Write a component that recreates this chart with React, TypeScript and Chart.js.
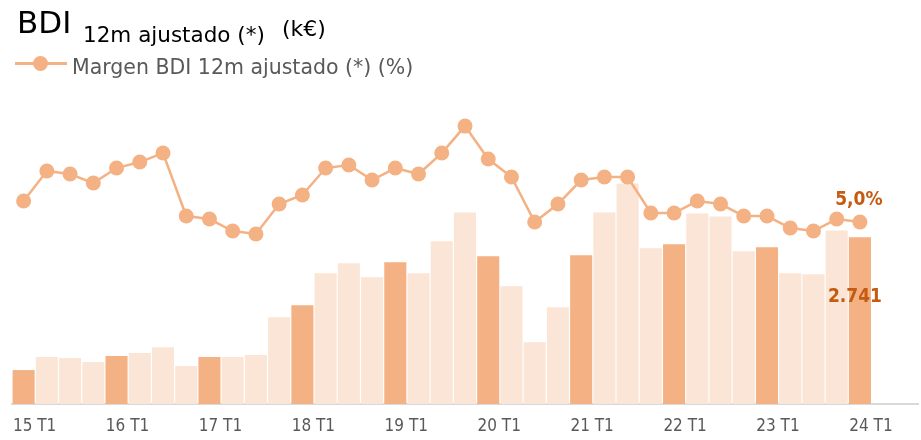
import React, { useEffect, useRef } from "react";
import { Chart, registerables } from "chart.js";

Chart.register(...registerables);

const quarters: string[] = [
  "15 T1", "15 T2", "15 T3", "15 T4",
  "16 T1", "16 T2", "16 T3", "16 T4",
  "17 T1", "17 T2", "17 T3", "17 T4",
  "18 T1", "18 T2", "18 T3", "18 T4",
  "19 T1", "19 T2", "19 T3", "19 T4",
  "20 T1", "20 T2", "20 T3", "20 T4",
  "21 T1", "21 T2", "21 T3", "21 T4",
  "22 T1", "22 T2", "22 T3", "22 T4",
  "23 T1", "23 T2", "23 T3", "23 T4",
  "24 T1",
];
// two empty slots to extend the axis past the last bar
const axisPadding: string[] = ["", ""];

const bdiKEur: number[] = [
  558, 771, 755, 689, 788, 837, 935, 624, 771, 771,
  804, 1428, 1625, 2150, 2314, 2084, 2330, 2150, 2675, 3151,
  2429, 1936, 1017, 1592, 2445, 3151, 3627, 2560, 2626, 3134,
  3085, 2511, 2577, 2150, 2133, 2855, 2741,
];

const marginPct: number[] = [
  5.7, 6.7, 6.6, 6.3, 6.8, 7.0, 7.3, 5.2, 5.1, 4.7,
  4.6, 5.6, 5.9, 6.8, 6.9, 6.4, 6.8, 6.6, 7.3, 8.2,
  7.1, 6.5, 5.0, 5.6, 6.4, 6.5, 6.5, 5.3, 5.3, 5.7,
  5.6, 5.2, 5.2, 4.8, 4.7, 5.1, 5.0,
];

const DARK = "#F4B183";
const LIGHT = "#FBE5D6";
const LABEL = "#C55A11";
const TICK_FONT = "'DejaVu Sans Condensed', 'DejaVu Sans', sans-serif";
const TEXT_FONT = "'DejaVu Sans', sans-serif";

const lastLabelsPlugin = {
  id: "lastLabels",
  afterDatasetsDraw(chart: any) {
    const ctx = chart.ctx;
    const last = bdiKEur.length - 1;
    const pt = chart.getDatasetMeta(1).data[last];
    const bar = chart.getDatasetMeta(0).data[last];
    ctx.save();
    ctx.fillStyle = LABEL;
    ctx.font = `bold 19px ${TICK_FONT}`;
    ctx.textAlign = "center";
    ctx.textBaseline = "middle";
    const m = marginPct[last].toFixed(1).replace(".", ",") + "%";
    ctx.fillText(m, pt.x - 1, pt.y - 22);
    const v = bdiKEur[last].toString().replace(/\B(?=(\d{3})+(?!\d))/g, ".");
    ctx.fillText(v, bar.x - 5, bar.y + 60);
    ctx.restore();
  },
};

export default function App() {
  const canvasRef = useRef<HTMLCanvasElement | null>(null);

  useEffect(() => {
    if (!canvasRef.current) return;
    const allLabels = [...quarters, ...axisPadding];
    const chart = new Chart(canvasRef.current, {
      type: "bar",
      data: {
        labels: allLabels,
        datasets: [
          {
            type: "bar",
            label: "BDI 12m ajustado (*) (k€)",
            data: bdiKEur,
            backgroundColor: quarters.map((q) => (q.endsWith("T1") ? DARK : LIGHT)),
            borderWidth: 0,
            barPercentage: 0.95,
            categoryPercentage: 1,
            yAxisID: "y",
            order: 2,
          },
          {
            type: "line",
            label: "Margen BDI 12m ajustado (*) (%)",
            data: marginPct,
            borderColor: DARK,
            backgroundColor: DARK,
            borderWidth: 2.5,
            pointRadius: 7.5,
            pointBackgroundColor: DARK,
            pointBorderWidth: 0,
            tension: 0,
            yAxisID: "y1",
            order: 1,
          },
        ],
      },
      options: {
        animation: false,
        responsive: false,
        maintainAspectRatio: false,
        layout: { autoPadding: false, padding: { top: 100, left: 12, right: 3, bottom: 0 } },
        plugins: {
          legend: { display: false },
          tooltip: { enabled: false },
        },
        scales: {
          x: {
            grid: { display: false, drawTicks: false },
            border: { display: true, color: "#D9D9D9", width: 2 },
            afterFit: (scale: any) => {
              scale.paddingLeft = 0;
              scale.paddingRight = 0;
              scale.height = 36;
            },
            ticks: {
              autoSkip: false,
              maxRotation: 0,
              padding: 12,
              labelOffset: 11,
              color: "#595959",
              font: { family: TICK_FONT, size: 17 },
              callback: (_v: any, i: number) => {
                const l = allLabels[i];
                return l && l.endsWith("T1") ? l : "";
              },
            },
          },
          y: { display: false, min: 0, max: 5000 },
          y1: { display: false, min: -1.07, max: 9.07 },
        },
      },
      plugins: [lastLabelsPlugin],
    });
    return () => chart.destroy();
  }, []);

  return (
    <div style={{ position: "absolute", left: 0, top: 0, width: 921, height: 440, background: "#fff", fontFamily: TEXT_FONT, lineHeight: 1 }}>
      <canvas ref={canvasRef} width={921} height={440} style={{ position: "absolute", left: 0, top: 0 }} />
      <div style={{ position: "absolute", left: 0, top: 0, whiteSpace: "nowrap", color: "#000" }}>
        <span style={{ position: "absolute", left: 17, top: 7, fontSize: 31 }}>BDI</span>
        <span style={{ position: "absolute", left: 83, top: 23.5, fontSize: 21.5 }}>12m ajustado (*)</span>
        <span style={{ position: "absolute", left: 282, top: 18, fontSize: 22 }}>(k€)</span>
      </div>
      <div style={{ position: "absolute", left: 15, top: 55.5, width: 52, height: 15 }}>
        <div style={{ position: "absolute", left: 0, top: 6.5, width: 52, height: 2.5, background: DARK }} />
        <div style={{ position: "absolute", left: 17.5, top: 0.25, width: 15, height: 15, borderRadius: "50%", background: DARK }} />
      </div>
      <span style={{ position: "absolute", left: 72, top: 56.7, fontSize: 20.5, color: "#595959", whiteSpace: "nowrap" }}>
        Margen BDI 12m ajustado (*) (%)
      </span>
    </div>
  );
}
